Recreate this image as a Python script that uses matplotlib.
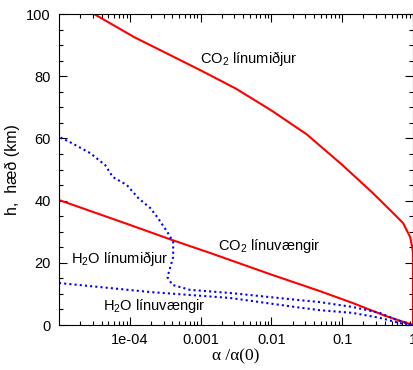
import matplotlib
matplotlib.use("Agg")
import matplotlib.pyplot as plt
import matplotlib.ticker as ticker

matplotlib.rcParams.update({'font.size': 10.5, 'font.family': 'Liberation Sans'})
matplotlib.rcParams['mathtext.fontset'] = 'custom'
matplotlib.rcParams['mathtext.rm'] = 'Liberation Sans'

# CO2 line centres (red, upper)
co2_mid_a = [3.02e-5, 1.17e-4, 3.16e-4, 1.0e-3, 3.16e-3, 1.0e-2, 0.0316, 0.1,
             0.272, 0.473, 0.724, 0.912, 0.977, 1.0, 1.0]
co2_mid_h = [100.2, 92.5, 87.6, 81.9, 76.0, 69.0, 61.3, 51.5,
             42.4, 37.0, 32.8, 28.3, 25.0, 23.2, 0]

# CO2 line wings (red, lower)
co2_wing_a = [1.0e-5, 1.0e-5, 1.0e-4, 4.0e-4, 1.35e-3, 1.0e-2, 0.047, 0.14, 0.4, 1.0]
co2_wing_h = [42.5, 40.2, 32.2, 27.3, 23.2, 16.2, 11.0, 7.1, 3.0, 0]

# H2O line centres (blue dotted)
h2o_mid_a = [1.0e-5, 1.0e-5, 1.43e-5, 2.75e-5, 4.5e-5, 5.75e-5, 9.1e-5, 1.32e-4, 1.95e-4,
             2.5e-4, 3.45e-4, 4.1e-4, 4.1e-4, 3.7e-4, 3.4e-4, 4.0e-4, 7.1e-4, 2.6e-3,
             0.025, 0.047, 0.14, 0.34, 0.59, 1.0]
h2o_mid_h = [65, 60.5, 58.8, 55.3, 51.4, 47.6, 45.0, 40.8, 37.6,
             34.4, 29.6, 26.7, 21.9, 18.3, 15.4, 12.9, 11.3, 10.3,
             8.0, 7.4, 5.8, 3.9, 1.6, 0]

# H2O line wings (blue dotted)
h2o_wing_a = [1.0e-5, 3.8e-5, 1.95e-4, 2.6e-3, 0.025, 0.047, 0.14, 0.34, 0.66, 1.0]
h2o_wing_h = [13.5, 12.2, 10.6, 8.7, 5.6, 4.8, 3.9, 2.3, 0.6, 0]

xticks = [1e-4, 1e-3, 1e-2, 1e-1, 1]
xticklabels = ["1e-04", "0.001", "0.01", "0.1", "1"]

fig = plt.figure(figsize=(4.14, 3.70), dpi=100)
ax = fig.add_axes([0.1425, 0.1216, 0.855, 0.8405])

ax.plot(co2_mid_a, co2_mid_h, color='#ff0000', lw=1.5)
ax.plot(co2_wing_a, co2_wing_h, color='#ff0000', lw=1.5)
ax.plot(h2o_mid_a, h2o_mid_h, color='#0000ff', lw=1.5, linestyle=(0, (1, 1.5)))
ax.plot(h2o_wing_a, h2o_wing_h, color='#0000ff', lw=1.5, linestyle=(0, (1, 1.5)))

ax.text(9.8e-4, 85.8, "CO$_2$ línumiðjur", va='center', ha='left')
ax.text(1.76e-3, 25.4, "CO$_2$ línuvængir", va='center', ha='left')
ax.text(1.5e-5, 21.5, "H$_2$O línumiðjur", va='center', ha='left')
ax.text(4.2e-5, 6.1, "H$_2$O línuvængir", va='center', ha='left')

ax.set_xscale('log')
ax.set_xlim(1e-5, 1)
ax.set_ylim(0, 100)
ax.set_xticks(xticks)
ax.set_xticklabels(xticklabels)
ax.xaxis.set_minor_locator(ticker.LogLocator(base=10, subs=range(2, 10), numticks=20))
ax.xaxis.set_minor_formatter(ticker.NullFormatter())
ax.set_yticks([0, 20, 40, 60, 80, 100])
ax.yaxis.set_minor_locator(ticker.MultipleLocator(5))

ax.tick_params(which='both', direction='in', top=True, right=True, width=0.8)
ax.tick_params(which='major', length=6, pad=6)
ax.tick_params(which='minor', length=3)

ax.set_xlabel("α /α(0)", fontsize=12.5, family='Liberation Serif', labelpad=1)
ax.set_ylabel("h,  hæð (km)", fontsize=11.5, labelpad=4)

fig.savefig("out.png", dpi=100)
